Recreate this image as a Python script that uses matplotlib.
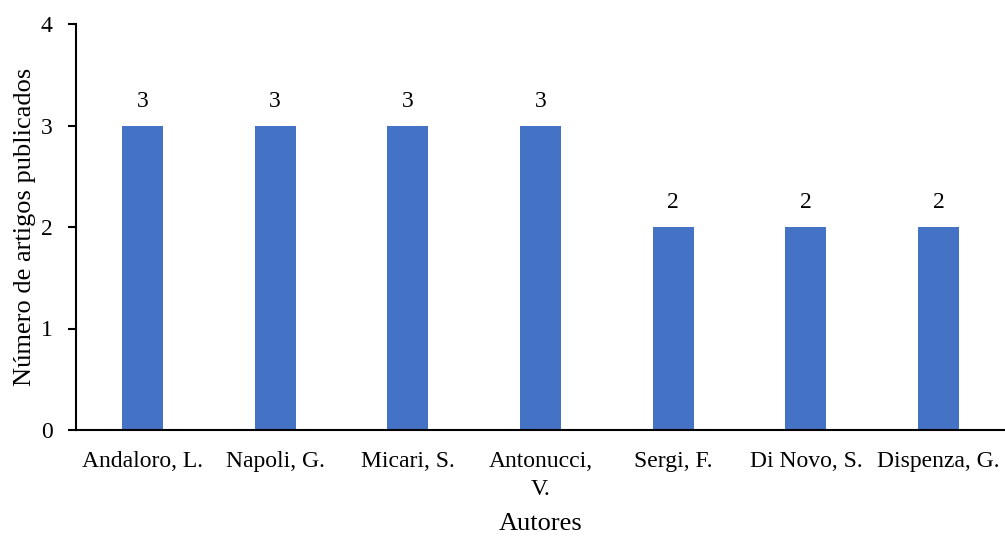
import numpy as np
import matplotlib.pyplot as plt

plt.rcParams['font.family'] = ['Liberation Serif', 'DejaVu Serif']

autores = ["Andaloro, L.", "Napoli, G.", "Micari, S.", "Antonucci,\nV.",
           "Sergi, F.", "Di Novo, S.", "Dispenza, G."]
artigos = [3, 3, 3, 3, 2, 2, 2]

fig = plt.figure(figsize=(10.05, 5.36), dpi=100)
ax = fig.add_axes([76/1005, 106/536, 929/1005, 406/536])

x = np.arange(len(autores))
barras = ax.bar(x, artigos, width=0.31, color='#4472C4')
ax.bar_label(barras, labels=[str(v) for v in artigos], padding=10, fontsize=17)

ax.set_xlim(-0.5, len(autores) - 0.5)
ax.set_ylim(0, 4)
ax.set_yticks([0, 1, 2, 3, 4])
ax.set_xticks(x)
ax.set_xticklabels(autores, fontsize=17, linespacing=1.45)
ax.tick_params(axis='y', labelsize=17, length=6, width=1.5, pad=11)
ax.tick_params(axis='x', length=0, pad=15)

ax.spines['top'].set_visible(False)
ax.spines['right'].set_visible(False)
ax.spines['left'].set_linewidth(1.5)
ax.spines['bottom'].set_linewidth(1.5)

ax.set_xlabel('Autores', fontsize=19, labelpad=9)
ax.set_ylabel('Número de artigos publicados', fontsize=19, labelpad=3)

fig.savefig('out.png', dpi=100)
